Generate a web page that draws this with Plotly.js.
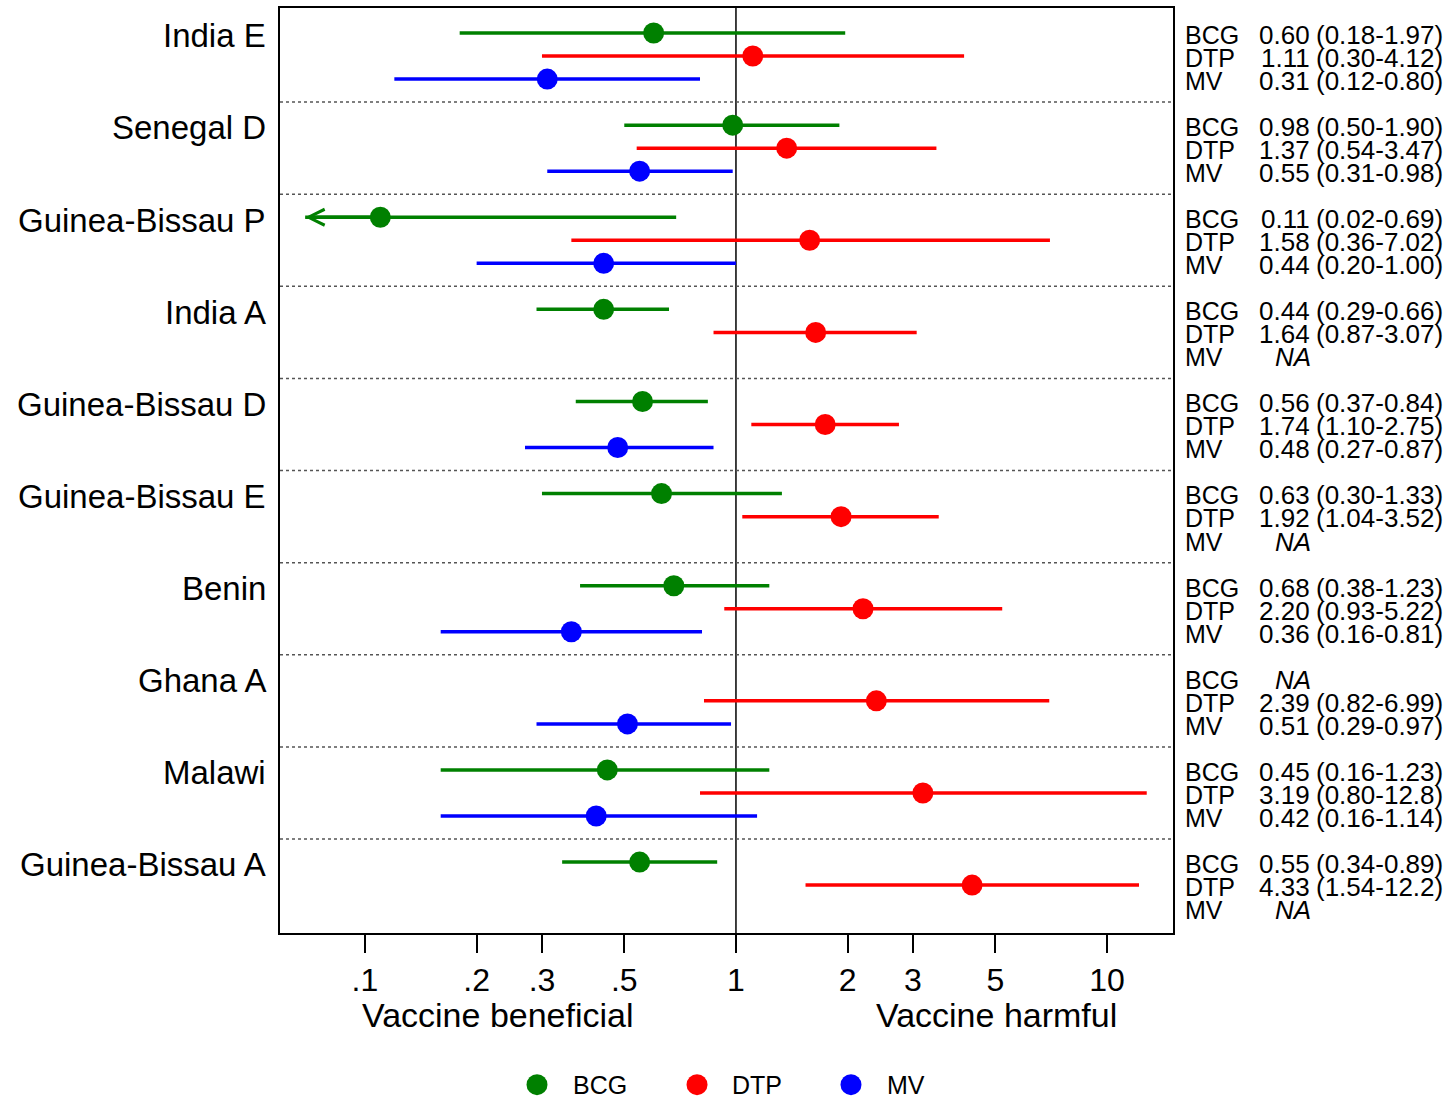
<!DOCTYPE html>
<html>
<head>
<meta charset="utf-8">
<script src="https://cdn.plot.ly/plotly-3.0.1.min.js"></script>
<style>html,body{margin:0;padding:0;background:#fff;}#chart{width:1453px;height:1098px;}</style>
</head>
<body>
<div id="chart"></div>
<script>
// ---------- data ----------
const studies = ["India E","Senegal D","Guinea-Bissau P","India A","Guinea-Bissau D","Guinea-Bissau E","Benin","Ghana A","Malawi","Guinea-Bissau A"];
const vaccines = ["BCG","DTP","MV"];
const bcgEst = [0.60,0.98,0.11,0.44,0.56,0.63,0.68,null,0.45,0.55];
const bcgLo  = [0.18,0.50,0.02,0.29,0.37,0.30,0.38,null,0.16,0.34];
const bcgHi  = [1.97,1.90,0.69,0.66,0.84,1.33,1.23,null,1.23,0.89];
const dtpEst = [1.11,1.37,1.58,1.64,1.74,1.92,2.20,2.39,3.19,4.33];
const dtpLo  = [0.30,0.54,0.36,0.87,1.10,1.04,0.93,0.82,0.80,1.54];
const dtpHi  = [4.12,3.47,7.02,3.07,2.75,3.52,5.22,6.99,12.8,12.2];
const mvEst  = [0.31,0.55,0.44,null,0.48,null,0.36,0.51,0.42,null];
const mvLo   = [0.12,0.31,0.20,null,0.27,null,0.16,0.29,0.16,null];
const mvHi   = [0.80,0.98,1.00,null,0.87,null,0.81,0.97,1.14,null];
const tickVals = [0.1,0.2,0.3,0.5,1,2,3,5,10];
const tickText = [".1",".2",".3",".5","1","2","3","5","10"];
const sideLabels = ["Vaccine beneficial","Vaccine harmful"];

// ---------- style ----------
const colors = ["#008000","#ff0000","#0000ff"];
const FONT = "Liberation Sans, Arial, sans-serif";
const NULL_VALUE = 1;
const ARROW_TIP = 0.069;     // left clip of the drawn CI (arrow shown)
const ROWS_PER_GROUP = 4;
const Y_RANGE = [40.08, -0.086];
const X_RANGE = [-1.229, 1.178];

const series = [
  {est: bcgEst, lo: bcgLo, hi: bcgHi},
  {est: dtpEst, lo: dtpLo, hi: dtpHi},
  {est: mvEst,  lo: mvLo,  hi: mvHi}
];
const slot = (g, v) => g * ROWS_PER_GROUP + v + 1;
const fmt = v => v >= 10 ? v.toFixed(1) : v.toFixed(2);

const traces = [];
traces.push({
  x: [NULL_VALUE, NULL_VALUE], y: Y_RANGE, mode: "lines",
  line: {color: "#000", width: 1.5}, hoverinfo: "skip", showlegend: false
});

const annotations = [];
const shapes = [];

series.forEach((s, v) => {
  const ys = studies.map((_, g) => slot(g, v));
  const plus = s.est.map((e, i) => e == null ? null : s.hi[i] - e);
  const minus = s.est.map((e, i) => e == null ? null : e - Math.max(s.lo[i], ARROW_TIP));
  traces.push({
    x: s.est, y: ys, mode: "markers", name: vaccines[v],
    marker: {color: colors[v], size: 21},
    error_x: {type: "data", symmetric: false, array: plus, arrayminus: minus,
              color: colors[v], thickness: 3.5, width: 0},
    showlegend: false, hoverinfo: "x+y"
  });
  s.lo.forEach((lo, g) => {
    if (lo != null && lo < ARROW_TIP) {
      annotations.push({
        x: Math.log10(ARROW_TIP), y: slot(g, v), xref: "x", yref: "y",
        ax: Math.log10(ARROW_TIP * 1.6), ay: slot(g, v), axref: "x", ayref: "y",
        showarrow: true, arrowhead: 5, arrowsize: 0.9, arrowwidth: 3.5,
        arrowcolor: colors[v], text: ""
      });
    }
  });
});

// group labels and right-hand text
studies.forEach((name, g) => {
  annotations.push({
    x: -0.0135, y: slot(g, 0) + 0.12, xref: "paper", yref: "y",
    xanchor: "right", yanchor: "middle", showarrow: false, text: name,
    font: {family: FONT, size: 33, color: "#000"}
  });
  series.forEach((s, v) => {
    const y = slot(g, v) + 0.08;
    const f = {family: FONT, size: 26, color: "#000"};
    annotations.push({x: 1.011, y: y, xref: "paper", yref: "y", xanchor: "left", yanchor: "middle",
      showarrow: false, text: vaccines[v], font: {family: FONT, size: 25, color: "#000"}});
    if (s.est[g] == null) {
      annotations.push({x: 1.157, y: y, xref: "paper", yref: "y", xanchor: "right", yanchor: "middle",
        showarrow: false, text: "<i>NA</i>", font: f});
    } else {
      annotations.push({x: 1.156, y: y, xref: "paper", yref: "y", xanchor: "right", yanchor: "middle",
        showarrow: false, text: fmt(s.est[g]), font: f});
      annotations.push({x: 1.1575, y: y, xref: "paper", yref: "y", xanchor: "left", yanchor: "middle",
        showarrow: false, text: "(" + fmt(s.lo[g]) + "-" + fmt(s.hi[g]) + ")", font: f});
    }
  });
  if (g > 0) {
    shapes.push({type: "line", xref: "paper", yref: "y", x0: 0, x1: 1,
      y0: g * ROWS_PER_GROUP, y1: g * ROWS_PER_GROUP,
      line: {color: "#555", width: 1.5, dash: "dot"}});
  }
});

// side labels under axis
annotations.push({x: 0.244, y: -0.089, xref: "paper", yref: "paper", xanchor: "center", yanchor: "middle",
  showarrow: false, text: sideLabels[0], font: {family: FONT, size: 34, color: "#000"}});
annotations.push({x: 0.802, y: -0.089, xref: "paper", yref: "paper", xanchor: "center", yanchor: "middle",
  showarrow: false, text: sideLabels[1], font: {family: FONT, size: 34, color: "#000"}});

// custom legend
const legMarkX = [0.2878, 0.4670, 0.6394];
const legTextX = [0.3255, 0.5035, 0.6775];
const legY = -0.164;
vaccines.forEach((name, v) => {
  shapes.push({type: "circle", xref: "paper", yref: "paper", xsizemode: "pixel", ysizemode: "pixel",
    xanchor: legMarkX[v], yanchor: legY, x0: -10.5, x1: 10.5, y0: -10.5, y1: 10.5,
    fillcolor: colors[v], line: {width: 0}});
  annotations.push({x: legTextX[v], y: legY, xref: "paper", yref: "paper", xanchor: "left", yanchor: "middle",
    showarrow: false, text: name, font: {family: FONT, size: 25, color: "#000"}});
});

const layout = {
  width: 1453, height: 1098,
  margin: {l: 280, r: 280, t: 8, b: 165},
  paper_bgcolor: "#fff", plot_bgcolor: "#fff",
  showlegend: false,
  font: {family: FONT, color: "#000"},
  xaxis: {
    type: "log", range: X_RANGE, tickvals: tickVals, ticktext: tickText,
    ticks: "outside", ticklen: 18, tickwidth: 2, tickcolor: "#000",
    tickfont: {family: FONT, size: 32, color: "#000"},
    showgrid: false, zeroline: false,
    showline: true, linecolor: "#000", linewidth: 2, mirror: true
  },
  yaxis: {
    range: Y_RANGE, showticklabels: false, ticks: "", showgrid: false, zeroline: false,
    showline: true, linecolor: "#000", linewidth: 2, mirror: true
  },
  annotations: annotations,
  shapes: shapes
};

Plotly.newPlot("chart", traces, layout, {displayModeBar: false, staticPlot: true});
</script>
</body>
</html>
